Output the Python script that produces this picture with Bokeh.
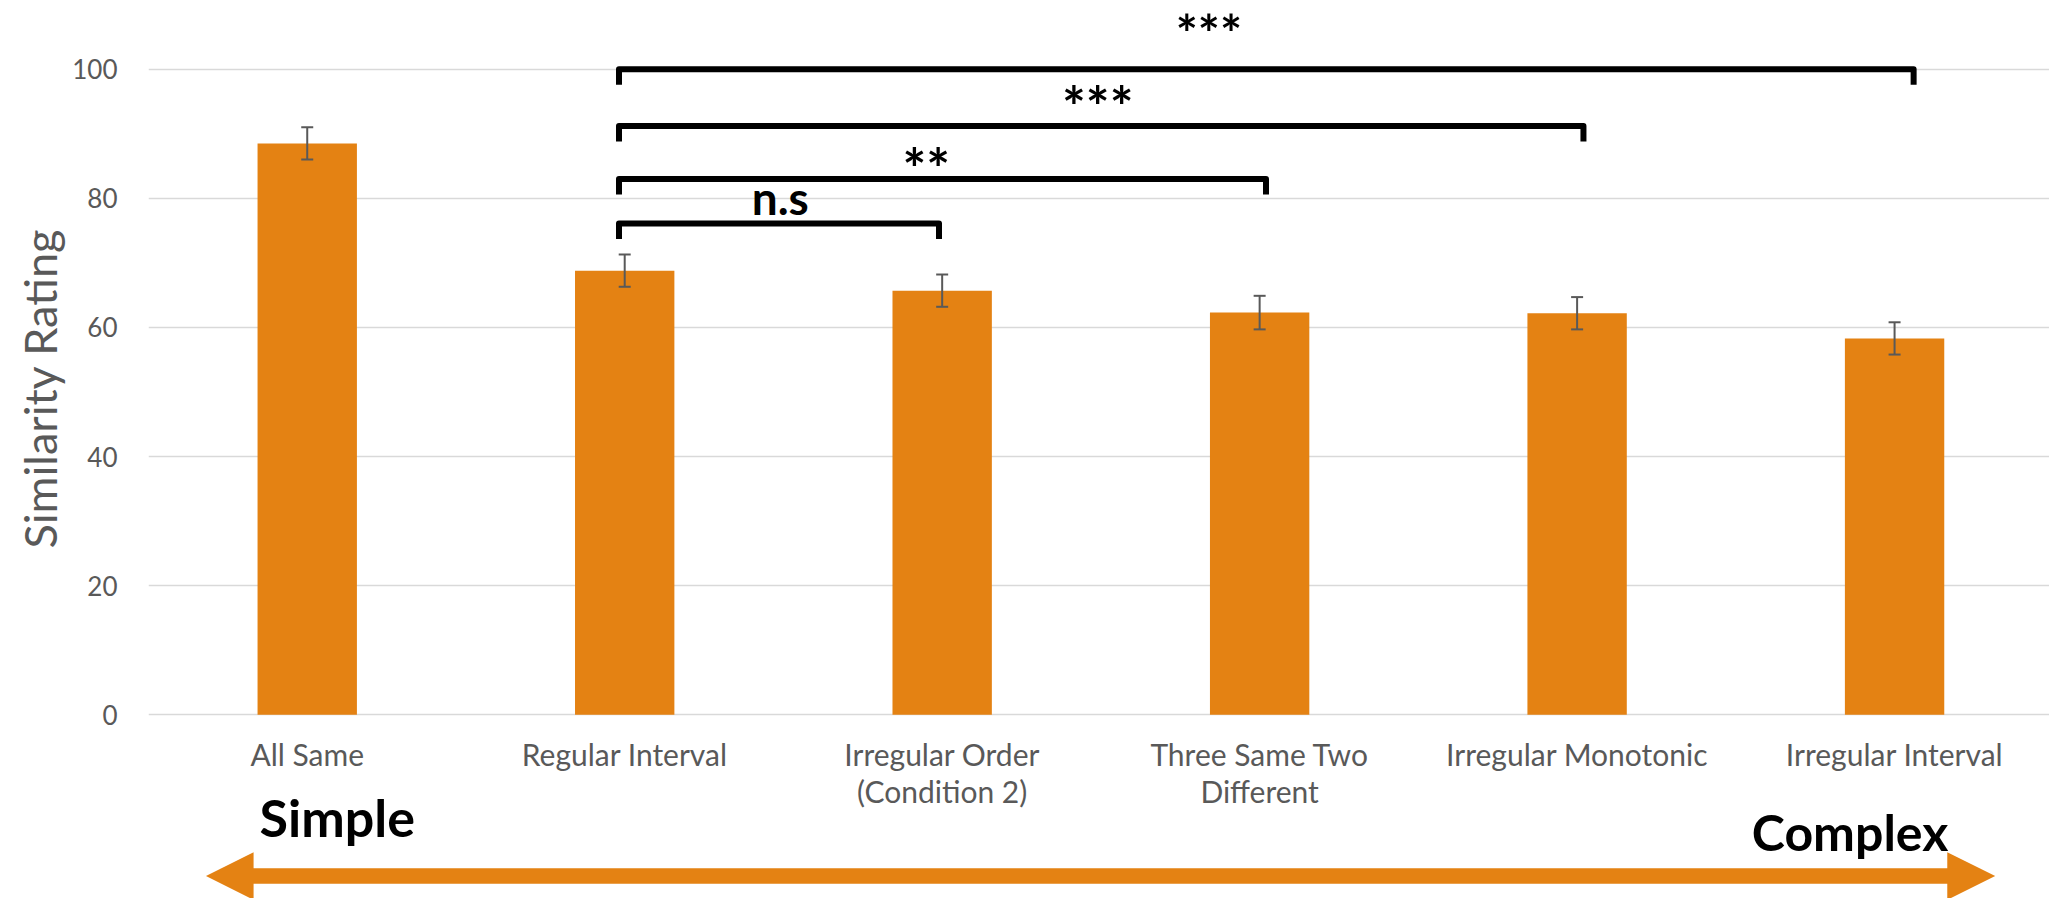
from bokeh.core.properties import value
from bokeh.embed import file_html
from bokeh.models import ColumnDataSource, FixedTicker, Range1d, TeeHead, Title, Whisker
from bokeh.plotting import figure
from bokeh.resources import INLINE

# ---- data -------------------------------------------------------------
categories = [
    "All Same",
    "Regular Interval",
    "Irregular Order\n(Condition 2)",
    "Three Same Two\nDifferent",
    "Irregular Monotonic",
    "Irregular Interval",
]
ratings = [88.5, 68.8, 65.7, 62.3, 62.2, 58.3]
errors = [2.5, 2.5, 2.5, 2.6, 2.5, 2.5]
y_ticks = [0, 20, 40, 60, 80, 100]

# pairwise comparisons against "Regular Interval"
cmp_from = [1, 1, 1, 1]
cmp_to = [2, 3, 4, 5]
cmp_labels = ["n.s", "**", "***", "***"]

# ---- layout / style ---------------------------------------------------
ORANGE = "#E48213"
GREY_TEXT = "#595959"
GRID = "#D9D9D9"
FONT = "Lato"

bracket_y = [76.1, 83.0, 91.2, 100.0]     # height of each bracket bar
bracket_leg = 2.4                          # leg length (rating units)
bracket_right_pad = [-0.01, 0.02, 0.02, 0.06]
label_x = [1.49, 1.95, 2.49, 2.84]
label_y = [80.2, 84.8, 94.3, 110.45]       # last one is a top-anchored position
label_size = ["46px", "56px", "56px", "52px"]

W, H = 2049, 898
p = figure(
    width=W,
    height=H,
    x_range=Range1d(-0.5, 5.488),
    y_range=Range1d(-28.45, 110.64),
    x_axis_location=None,
    toolbar_location=None,
    output_backend="svg",
    min_border_left=148,
    min_border_right=0,
    min_border_top=0,
    min_border_bottom=0,
)
p.outline_line_color = None

for g in p.grid:
    if g.dimension == 0:
        g.visible = False
p.ygrid.ticker = FixedTicker(ticks=y_ticks)
p.ygrid.grid_line_color = GRID
p.ygrid.grid_line_width = 1.5

yax = p.yaxis[0]
yax.ticker = FixedTicker(ticks=y_ticks)
yax.axis_line_color = None
yax.major_tick_line_color = None
yax.minor_tick_line_color = None
yax.major_tick_out = 0
yax.major_tick_in = 0
yax.major_label_standoff = 31
yax.major_label_text_font = FONT
yax.major_label_text_font_size = "26px"
yax.major_label_text_color = GREY_TEXT

# y-axis title, started from the frame bottom so it sits centred on 0-100
p.add_layout(Title(text="Similarity Rating", align="left", offset=350,
                   text_font=FONT, text_font_size="45px", text_font_style="normal",
                   text_color=GREY_TEXT, standoff=6), "left")

# ---- bars + error bars -----------------------------------------------
xs = list(range(len(categories)))
src = ColumnDataSource(dict(
    x=xs,
    rating=ratings,
    upper=[r + e for r, e in zip(ratings, errors)],
    lower=[r - e for r, e in zip(ratings, errors)],
))
p.vbar(x="x", top="rating", width=0.313, source=src,
       fill_color=ORANGE, line_color=None)

head = dict(size=12, line_color=GREY_TEXT, line_width=2)
p.add_layout(Whisker(base="x", upper="upper", lower="lower", source=src,
                     line_color=GREY_TEXT, line_width=2, level="annotation",
                     upper_head=TeeHead(**head), lower_head=TeeHead(**head)))

# ---- category labels under the bars ----------------------------------
p.text(x=xs, y=[-3.3] * len(xs), text=categories,
       text_font=value(FONT), text_font_size="30px", text_color=GREY_TEXT,
       text_align="center", text_baseline="top", text_line_height=1.03)

# ---- significance brackets -------------------------------------------
bx, by = [], []
for a, b, h, pad in zip(cmp_from, cmp_to, bracket_y, bracket_right_pad):
    left, right = a - 0.018, b + pad
    bx.append([left, left, right, right])
    by.append([h - bracket_leg, h, h, h - bracket_leg])
p.multi_line(xs=bx, ys=by, line_color="black", line_width=6,
             line_join="round", line_cap="butt")

lab = dict(x=label_x, y=label_y, text=cmp_labels, size=label_size)
mid_src = ColumnDataSource({k: v[:-1] for k, v in lab.items()})
top_src = ColumnDataSource({k: v[-1:] for k, v in lab.items()})
sig_style = dict(text_font=value(FONT), text_font_style="bold", text_font_size="size",
                 text_color="black", text_align="center")
p.text(x="x", y="y", text="text", source=mid_src, text_baseline="middle", **sig_style)
p.text(x="x", y="y", text="text", source=top_src, text_baseline="top", **sig_style)

# ---- simple -> complex arrow ------------------------------------------
y_mid, shaft, head_h = -24.97, 1.2, 3.69
x_tip_l, x_base_l, x_base_r, x_tip_r = -0.319, -0.169, 5.166, 5.317
p.patch(
    x=[x_tip_l, x_base_l, x_base_l, x_base_r, x_base_r, x_tip_r,
       x_base_r, x_base_r, x_base_l, x_base_l],
    y=[y_mid, y_mid + head_h, y_mid + shaft, y_mid + shaft, y_mid + head_h, y_mid,
       y_mid - head_h, y_mid - shaft, y_mid - shaft, y_mid - head_h],
    fill_color=ORANGE, line_color=None,
)
p.text(x=[-0.15], y=[-15.8], text=["Simple"],
       text_font=value(FONT), text_font_style="bold", text_font_size="52px",
       text_color="black", text_align="left", text_baseline="alphabetic")
p.text(x=[5.169], y=[-18.1], text=["Complex"],
       text_font=value(FONT), text_font_style="bold", text_font_size="50px",
       text_color="black", text_align="right", text_baseline="alphabetic")

open("out.html", "w").write(file_html(p, INLINE))
